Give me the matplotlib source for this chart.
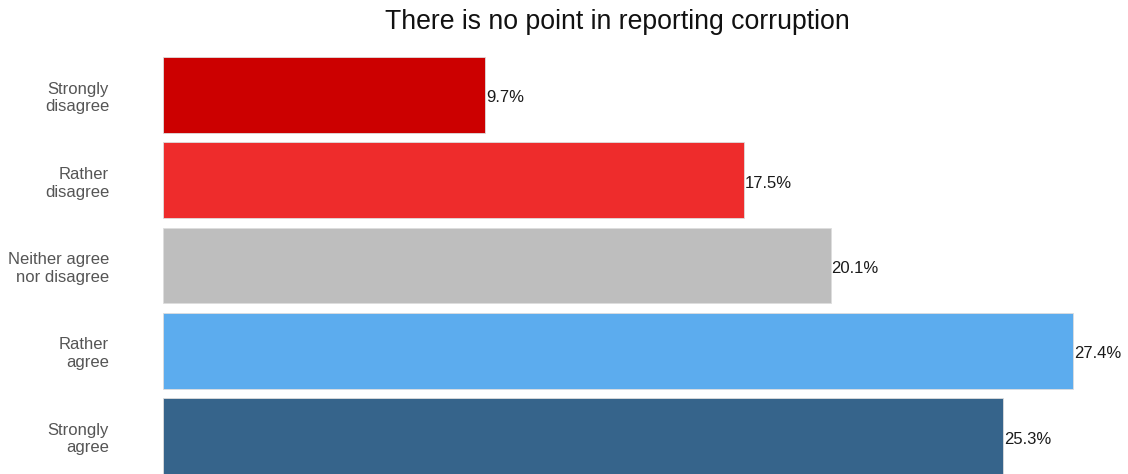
import matplotlib
matplotlib.use("Agg")
import matplotlib.pyplot as plt

categories = ["Strongly\ndisagree", "Rather\ndisagree", "Neither agree\nnor disagree", "Rather\nagree", "Strongly\nagree"]
values = [9.7, 17.5, 20.1, 27.4, 25.3]
colors = ["#CC0000", "#EE2C2C", "#BEBEBE", "#5CACEE", "#36648B"]
title = "There is no point in reporting corruption"

plt.rcParams['font.family'] = ['Liberation Sans', 'DejaVu Sans']

W, H = 1128, 474
fig = plt.figure(figsize=(W/100, H/100), dpi=100)
left_px = 163
ax = fig.add_axes([left_px/W, 0, (W-left_px)/W, 1])

pitch = 85.25
ypos = list(range(len(categories)))
ax.barh(ypos, values, height=0.89, color=colors, edgecolor="#DDDDDD", linewidth=0.6)
ax.set_ylim(4 + (474-436)/pitch, -95/pitch)
ax.set_xlim(0, (W-left_px)/33.21)

for y, v, c in zip(ypos, values, categories):
    ax.text(v + 0.03, y + 3/pitch, f"{v:.1f}%", va="center", ha="left", fontsize=12, color="#1a1a1a")
    fig.text(109/W, 1 - (98 + y*pitch)/H, c, ha="right", va="center", multialignment="right",
             fontsize=12, color="#555555", linespacing=1.22)

ax.axis("off")
fig.text(617/W, 1 - 22/H, title, ha="center", va="center", fontsize=19.2, color="#111111")
fig.savefig("out.png", dpi=100)
